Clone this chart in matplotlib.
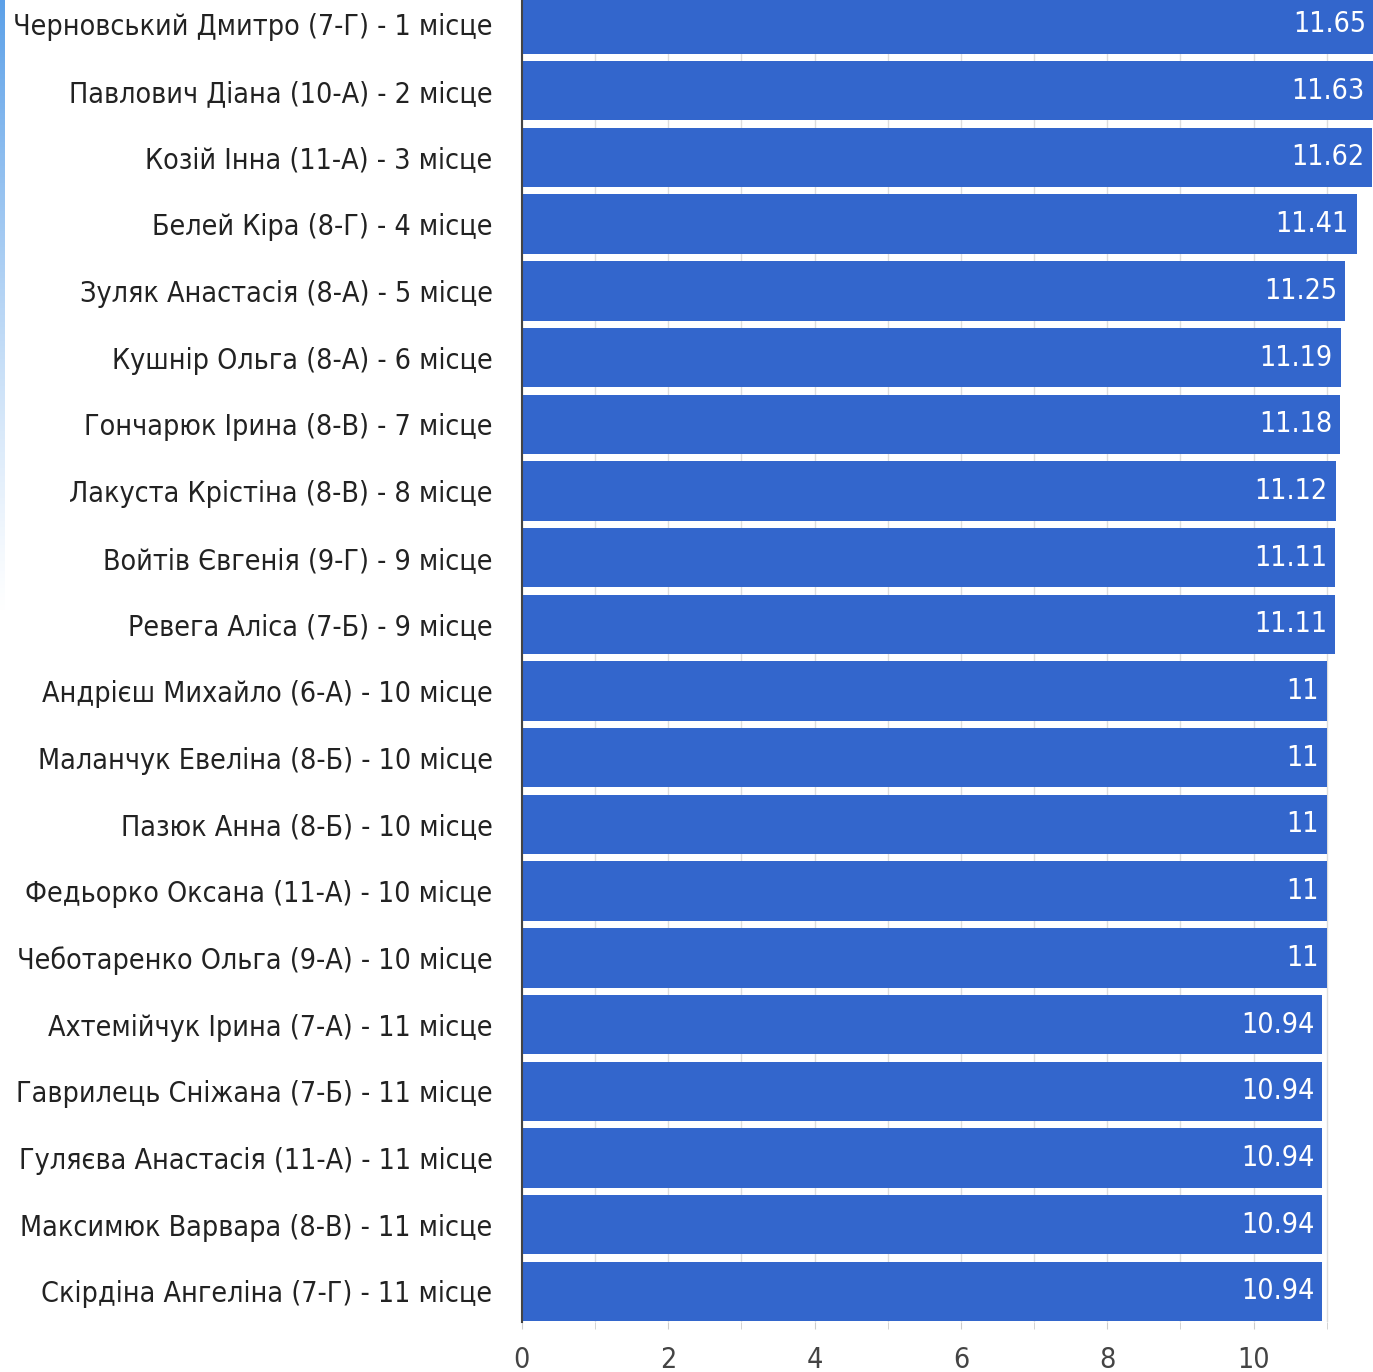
import matplotlib
matplotlib.use("Agg")
import matplotlib.pyplot as plt
import numpy as np
from matplotlib.ticker import MultipleLocator

names = [
    "Черновський Дмитро (7-Г) - 1 місце",
    "Павлович Діана (10-А) - 2 місце",
    "Козій Інна (11-А) - 3 місце",
    "Белей Кіра (8-Г) - 4 місце",
    "Зуляк Анастасія (8-А) - 5 місце",
    "Кушнір Ольга (8-А) - 6 місце",
    "Гончарюк Ірина (8-В) - 7 місце",
    "Лакуста Крістіна (8-В) - 8 місце",
    "Войтів Євгенія (9-Г) - 9 місце",
    "Ревега Аліса (7-Б) - 9 місце",
    "Андрієш Михайло (6-А) - 10 місце",
    "Маланчук Евеліна (8-Б) - 10 місце",
    "Пазюк Анна (8-Б) - 10 місце",
    "Федьорко Оксана (11-А) - 10 місце",
    "Чеботаренко Ольга (9-А) - 10 місце",
    "Ахтемійчук Ірина (7-А) - 11 місце",
    "Гаврилець Сніжана (7-Б) - 11 місце",
    "Гуляєва Анастасія (11-А) - 11 місце",
    "Максимюк Варвара (8-В) - 11 місце",
    "Скірдіна Ангеліна (7-Г) - 11 місце",
]
scores = [11.65, 11.63, 11.62, 11.41, 11.25, 11.19, 11.18, 11.12, 11.11, 11.11,
          11, 11, 11, 11, 11, 10.94, 10.94, 10.94, 10.94, 10.94]

plt.rcParams["font.family"] = ["DejaVu Sans"]
plt.rcParams["font.stretch"] = "condensed"

fig = plt.figure(figsize=(13.73, 13.72), dpi=100)

# faint blue strip on the left edge of the screenshot (fades out downwards)
strip = fig.add_axes([0, 0.55, 0.003, 0.45])
rgba = np.zeros((256, 1, 4))
rgba[..., 0], rgba[..., 1], rgba[..., 2] = 0.36, 0.63, 0.91
rgba[..., 3] = np.linspace(1, 0, 256).reshape(-1, 1) ** 1.2
strip.imshow(rgba, aspect="auto", extent=[0, 1, 0, 1])
strip.axis("off")

ax = fig.add_axes([0.380, 0.0364, 0.620, 0.9636])
y = np.arange(len(names))
ax.barh(y, scores, height=0.89, color="#3366cc", zorder=2)

for yi, v in zip(y, scores):
    ax.text(v - 0.11, yi, f"{v:g}", color="white", ha="right", va="center",
            fontsize=20.5, zorder=3)

ax.set_yticks(y)
ax.set_yticklabels(names, fontsize=20.5, color="#222222")
ax.tick_params(axis="y", length=0, pad=21)
ax.set_ylim(19.46, -0.36)
ax.set_xlim(0, 11.63)
ax.xaxis.set_major_locator(MultipleLocator(2))
ax.xaxis.set_minor_locator(MultipleLocator(1))
ax.tick_params(axis="x", which="both", length=5, color="#cccccc",
               labelsize=20.5, labelcolor="#444444", pad=12)
ax.grid(axis="x", which="both", color="#dddddd", linewidth=1, zorder=0)
ax.set_axisbelow(True)

for s in ["top", "right", "bottom"]:
    ax.spines[s].set_visible(False)
ax.spines["left"].set_color("#444444")
ax.spines["left"].set_linewidth(1.5)
ax.spines["left"].set_zorder(4)

fig.savefig("out.png", dpi=100)
